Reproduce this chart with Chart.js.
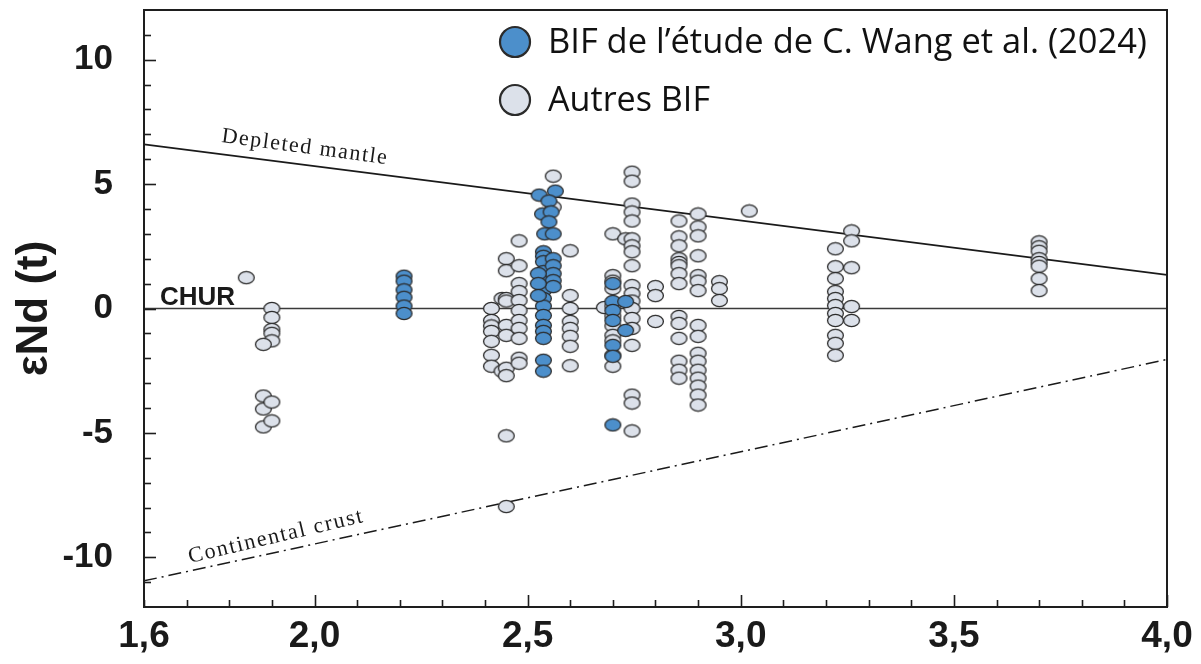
<!DOCTYPE html>
<html>
<head>
<meta charset="utf-8">
<script src="https://cdn.jsdelivr.net/npm/chart.js@4.4.1/dist/chart.umd.min.js"></script>
<style>
html,body{margin:0;padding:0;background:#fff;}
#wrap{width:1201px;height:664px;position:relative;}
</style>
</head>
<body>
<div id="wrap"><canvas id="c" width="1201" height="664"></canvas></div>
<script>
// ---- Data ----
const xTickLabels = [1.6, 2.0, 2.5, 3.0, 3.5, 4.0];
const yTickLabels = [-10, -5, 0, 5, 10];
const depletedMantle = [[1.6, 6.6], [4.0, 1.35]];
const churLine = [[1.6, 0], [4.0, 0]];
const continentalCrust = [[1.6, -10.95], [4.0, -2.05]];

const wangBIF = [
  [2.21, 1.3], [2.21, 1.1], [2.21, 0.75], [2.21, 0.45], [2.21, 0.1], [2.21, -0.2],
  [2.527, 4.56], [2.565, 4.72], [2.55, 4.32], [2.535, 3.8], [2.555, 3.88], [2.55, 3.48],
  [2.54, 3.0], [2.56, 3.0],
  [2.537, 2.28], [2.537, 2.1], [2.537, 1.88], [2.537, 1.48], [2.537, 1.08], [2.537, 0.72],
  [2.537, 0.4], [2.537, 0.1], [2.537, -0.28], [2.537, -0.68], [2.537, -0.92], [2.537, -1.2],
  [2.537, -2.08], [2.537, -2.52],
  [2.56, 2.0], [2.56, 1.72], [2.56, 1.4], [2.56, 1.12], [2.56, 0.88],
  [2.525, 1.4], [2.525, 1.0], [2.525, 0.52],
  [2.70, 1.0], [2.70, 0.28], [2.70, -0.08], [2.70, -0.48], [2.70, -1.48], [2.70, -1.92], [2.70, -4.68],
  [2.73, 0.28], [2.73, -0.88]
];

const otherBIF = [
  [1.84, 1.24],
  [1.90, 0], [1.90, -0.36], [1.90, -0.84], [1.90, -1.0], [1.90, -1.3],
  [1.88, -1.44], [1.88, -3.52], [1.88, -4.04], [1.88, -4.76], [1.90, -3.76], [1.90, -4.52],
  [2.415, 0], [2.415, -0.48], [2.415, -0.7], [2.415, -0.92], [2.415, -1.32], [2.415, -1.88], [2.415, -2.32],
  [2.44, 0.4], [2.44, -2.52],
  [2.45, 2.0], [2.45, 1.52], [2.45, 0.4], [2.45, 0.3], [2.45, -0.68], [2.45, -1.08],
  [2.45, -2.4], [2.45, -2.7], [2.45, -5.12], [2.45, -7.96],
  [2.48, 2.72], [2.48, 1.72], [2.48, 1.0], [2.48, 0.68], [2.48, 0.32], [2.48, -0.08],
  [2.48, -0.48], [2.48, -0.8], [2.48, -1.2], [2.48, -2.0], [2.48, -2.2],
  [2.56, 5.32], [2.56, 4.08],
  [2.60, 2.32], [2.60, 0.52], [2.60, 0], [2.60, -0.52], [2.60, -0.8], [2.60, -1.12], [2.60, -1.52], [2.60, -2.3],
  [2.68, 0.04],
  [2.70, 3.0], [2.70, 1.32], [2.70, 1.1], [2.70, 0.8], [2.70, 0.1], [2.70, -0.3], [2.70, -0.7],
  [2.70, -1.08], [2.70, -1.3], [2.70, -1.88], [2.70, -2.32],
  [2.73, 2.8],
  [2.745, 5.48], [2.745, 5.12], [2.745, 4.2], [2.745, 3.88], [2.745, 3.52], [2.745, 2.8], [2.745, 2.52],
  [2.745, 2.28], [2.745, 1.72], [2.745, 0.92], [2.745, 0.6], [2.745, 0.3], [2.745, 0], [2.745, -0.4],
  [2.745, -0.8], [2.745, -1.48], [2.745, -3.48], [2.745, -3.8], [2.745, -4.92],
  [2.80, 0.88], [2.80, 0.52], [2.80, -0.52],
  [2.855, 3.52], [2.855, 2.88], [2.855, 2.52], [2.855, 2.0], [2.855, 1.85], [2.855, 1.72], [2.855, 1.4],
  [2.855, 1.0], [2.855, -0.32], [2.855, -0.6], [2.855, -1.2], [2.855, -2.12], [2.855, -2.48], [2.855, -2.8],
  [2.90, 3.8], [2.90, 3.28], [2.90, 2.92], [2.90, 2.12], [2.90, 1.32], [2.90, 1.1], [2.90, 0.72],
  [2.90, -0.68], [2.90, -1.12], [2.90, -1.8], [2.90, -2.12], [2.90, -2.48], [2.90, -2.8], [2.90, -3.12],
  [2.90, -3.48], [2.90, -3.88],
  [2.95, 1.08], [2.95, 0.8], [2.95, 0.32],
  [3.02, 3.92],
  [3.222, 2.4], [3.222, 1.68], [3.222, 1.2], [3.222, 0.68], [3.222, 0.4], [3.222, 0.12], [3.222, -0.2],
  [3.222, -0.48], [3.222, -1.08], [3.222, -1.4], [3.222, -1.88],
  [3.26, 3.12], [3.26, 2.72], [3.26, 1.64], [3.26, 0.08], [3.26, -0.48],
  [3.70, 2.68], [3.70, 2.48], [3.70, 2.3], [3.70, 2.0], [3.70, 1.85], [3.70, 1.7], [3.70, 1.2], [3.70, 0.72]
];

const legendLabels = ["BIF de l\u2019\u00e9tude de C. Wang et al. (2024)", "Autres BIF"];
const yAxisTitle = "\u03b5Nd (t)";

// ---- Styles ----
const BLUE = '#4c8fcb';
const GREY = '#dce1ea';
const EDGE = '#2b2b2b';
const AXIS = '#1e1e1e';
const TICKFONT = "'Liberation Sans', Arial, sans-serif";

function ellipseMarker(fill) {
  const c = document.createElement('canvas');
  c.width = 19; c.height = 15;
  const g = c.getContext('2d');
  g.beginPath();
  g.ellipse(9.5, 7.5, 7.9, 6.1, 0, 0, Math.PI * 2);
  g.fillStyle = fill; g.fill();
  g.lineWidth = 1.3; g.strokeStyle = EDGE; g.stroke();
  return c;
}
const toXY = arr => arr.map(p => ({x: p[0], y: p[1]}));

const decor = {
  id: 'decor',
  afterDraw(chart) {
    const ctx = chart.ctx;
    const a = chart.chartArea;
    const xs = chart.scales.x, ys = chart.scales.y;
    ctx.save();
    // frame
    ctx.strokeStyle = AXIS; ctx.lineWidth = 2;
    ctx.strokeRect(a.left, a.top, a.right - a.left, a.bottom - a.top);
    // inward ticks
    ctx.lineWidth = 1.6;
    for (let i = 16; i <= 40; i++) {
      const v = i / 10;
      const px = Math.round(xs.getPixelForValue(v)) + 0.5;
      const major = (i % 5 === 0);
      ctx.beginPath(); ctx.moveTo(px, a.bottom); ctx.lineTo(px, a.bottom - (major ? 12 : 7)); ctx.stroke();
    }
    for (let v = -11; v <= 11; v++) {
      const py = Math.round(ys.getPixelForValue(v)) + 0.5;
      const major = (v % 5 === 0);
      ctx.beginPath(); ctx.moveTo(a.left, py); ctx.lineTo(a.left + (major ? 12 : 7), py); ctx.stroke();
    }
    // CHUR label
    ctx.fillStyle = '#1a1a1a';
    ctx.font = "bold 26px 'Liberation Sans', Arial, sans-serif";
    ctx.textAlign = 'left'; ctx.textBaseline = 'alphabetic';
    ctx.fillText('CHUR', 160, 305);
    // Depleted mantle
    ctx.font = "22px 'Liberation Serif', 'Times New Roman', serif";
    ctx.save();
    ctx.translate(221, 142);
    ctx.rotate(7.6 * Math.PI / 180);
    ctx.letterSpacing = '1.55px';
    ctx.fillText('Depleted mantle', 0, 0);
    ctx.restore();
    // Continental crust
    ctx.save();
    ctx.translate(190, 563);
    ctx.rotate(-13.3 * Math.PI / 180);
    ctx.letterSpacing = '1.7px';
    ctx.fillText('Continental crust', 0, 0);
    ctx.restore();
    // legend
    const items = [[BLUE, legendLabels[0], 42], [GREY, legendLabels[1], 100]];
    const targetW = [599, 162];
    items.forEach((it, i) => {
      ctx.beginPath();
      ctx.arc(515, it[2], 15, 0, Math.PI * 2);
      ctx.fillStyle = it[0]; ctx.fill();
      ctx.lineWidth = 2.2; ctx.strokeStyle = EDGE; ctx.stroke();
      ctx.fillStyle = '#111';
      ctx.font = "35px 'Open Sans', 'Noto Sans', sans-serif";
      ctx.textBaseline = 'middle';
      ctx.letterSpacing = '0px';
      const w = ctx.measureText(it[1]).width;
      ctx.save();
      ctx.translate(548, it[2] + 1);
      ctx.scale(targetW[i] / w, 1);
      ctx.fillText(it[1], 0, 0);
      ctx.restore();
    });
    ctx.restore();
  }
};

new Chart(document.getElementById('c'), {
  type: 'scatter',
  data: {
    datasets: [
      { label: legendLabels[0], data: toXY(wangBIF), pointStyle: ellipseMarker(BLUE), pointRadius: 8, order: 0 },
      { label: legendLabels[1], data: toXY(otherBIF), pointStyle: ellipseMarker(GREY), pointRadius: 8, order: 1 },
      { label: 'Depleted mantle', data: toXY(depletedMantle), showLine: true, borderColor: '#1a1a1a', borderWidth: 1.9, pointRadius: 0, order: 2 },
      { label: 'CHUR', data: toXY(churLine), showLine: true, borderColor: '#3a3a3a', borderWidth: 1.6, pointRadius: 0, order: 2 },
      { label: 'Continental crust', data: toXY(continentalCrust), showLine: true, borderColor: '#1a1a1a', borderWidth: 1.5, borderDash: [13, 5, 2, 5], pointRadius: 0, order: 2 }
    ]
  },
  options: {
    responsive: false,
    animation: false,
    layout: { padding: { left: 0, top: 10, right: 34, bottom: 0 } },
    plugins: { legend: { display: false }, tooltip: { enabled: false } },
    scales: {
      x: {
        type: 'linear', min: 1.6, max: 4.0,
        afterBuildTicks: s => { s.ticks = xTickLabels.map(v => ({value: v})); },
        afterFit: s => { s.height = 57; s.paddingLeft = 0; s.paddingRight = 0; },
        grid: { display: false, drawTicks: false },
        border: { display: false },
        ticks: {
          padding: 8,
          color: '#1a1a1a',
          font: { family: TICKFONT, size: 37, weight: 'bold' },
          callback: v => v.toFixed(1).replace('.', ','),
          maxRotation: 0, autoSkip: false
        }
      },
      y: {
        type: 'linear', min: -12, max: 12,
        afterBuildTicks: s => { s.ticks = yTickLabels.map(v => ({value: v})); },
        afterFit: s => { s.width = 144; s.paddingTop = 0; s.paddingBottom = 0; },
        grid: { display: false, drawTicks: false },
        border: { display: false },
        title: {
          display: true, text: yAxisTitle, color: '#1a1a1a',
          font: { family: "'Liberation Sans', Arial, sans-serif", size: 44, weight: 'bold' },
          padding: { top: 8, bottom: 0 }
        },
        ticks: {
          padding: 31,
          color: '#1a1a1a',
          font: { family: TICKFONT, size: 35, weight: 'bold' },
          callback: v => String(v)
        }
      }
    }
  },
  plugins: [decor]
});
</script>
</body>
</html>
